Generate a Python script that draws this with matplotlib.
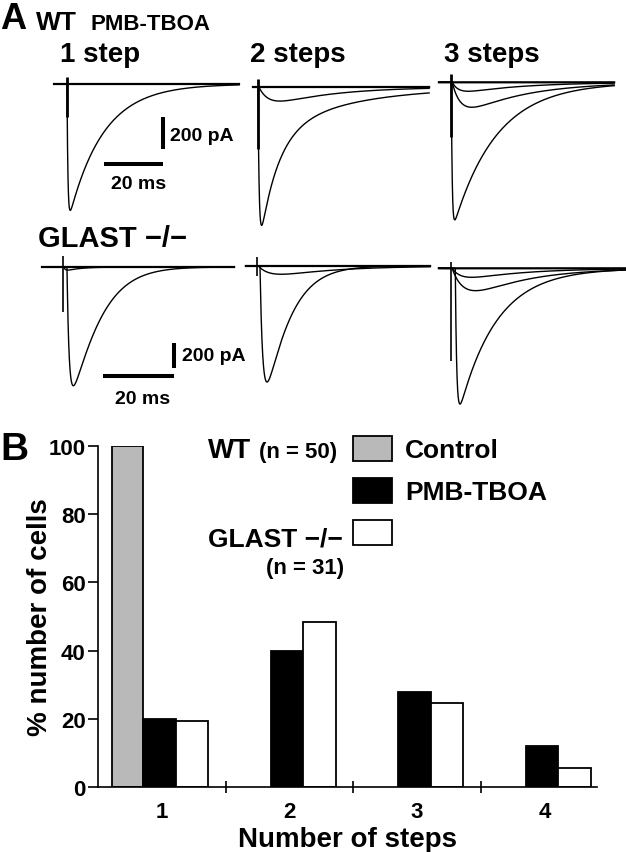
import numpy as np
import matplotlib
matplotlib.use('Agg')
import matplotlib.pyplot as plt

plt.rcParams['font.family'] = ['Liberation Sans', 'DejaVu Sans']
plt.rcParams['font.weight'] = 'bold'

# ---- panel B data (% of cells) ----
steps = [1, 2, 3, 4]
control_pct = [100, 0, 0, 0]
pmb_pct = [20, 40, 28, 12]
glast_pct = [19.5, 48.5, 24.5, 5.5]

# ---- panel A: trace kinetics (ms, pA) ----
col_titles = ['1 step', '2 steps', '3 steps']
# one entry per trace; panel = row * 3 + column
trace_panel = [0, 0, 1, 1, 1, 2, 2, 2, 2, 3, 3, 3, 4, 4, 4, 5, 5, 5, 5]
trace_amp = [0, 790, 0, 88, 865, 0, 56, 156, 860, 0, 25, 950, 0, 66, 928, 0, 72, 179, 1086]
trace_onset = [0, 0, 0, 0.3, 0, 0, 0.3, 0.3, 0, 0, 0.3, 1.2, 0, 0.3, 0.75, 0, 0.3, 0.3, 1.2]
trace_rise = [1, 0.3, 1, 4, 0.4, 1, 2.5, 3.5, 0.3, 1, 0.5, 0.6, 1, 4, 0.8, 1, 3, 4.5, 0.4]
trace_tau = [1, 11.5, 1, 20, 6, 1, 20, 20, 14.5, 1, 4, 9.3, 1, 16, 7.9, 1, 16, 15, 10.4]
trace_q = [1, 1, 1, 1, 1, 1, 1, 1, 1, 1, 1, 1.24, 1, 1, 1.18, 1, 1, 1, 1]
trace_slow_frac = [0, 0, 0, 0, 0.3, 0, 0, 0, 0, 0, 0, 0, 0, 0, 0, 0, 0, 0, 0]
trace_tau_slow = [1, 1, 1, 1, 27, 1, 1, 1, 1, 1, 1, 1, 1, 1, 1, 1, 1, 1, 1]
# stimulus artefact (pA above / below baseline) per panel
artefact_up = [42, 50, 52, 90, 72, 50]
artefact_down = [208, 388, 344, 362, 78, 742]
# recorded window per panel (ms relative to stimulus)
win_start = [-4.4, -1.7, -4.2, -5.8, -3.2, -3.4]
win_end = [58.3, 58.0, 55.2, 48.0, 48.4, 49.0]

W, H = 626, 853
fig = plt.figure(figsize=(W / 100, H / 100), dpi=100)


def ftext(x, y, s, **kw):
    kw.setdefault('va', 'baseline')
    return fig.text(x / W, 1 - y / H, s, **kw)


def current(t, i):
    s = np.clip(t - trace_onset[i], 0, None)
    if trace_amp[i] == 0:
        return np.zeros_like(t)
    fast = np.exp(-(s / trace_tau[i]) ** trace_q[i])
    slow = np.exp(-s / trace_tau_slow[i])
    f = trace_slow_frac[i]
    shape = (1 - np.exp(-s / trace_rise[i])) * ((1 - f) * fast + f * slow)
    return -trace_amp[i] * shape / shape.max()


# layout of the recording panels (pixels)
stim_x = [67, 258, 451.3, 62.7, 257.3, 451]
base_y = [85, 88, 83.3, 268, 267, 269.3]
px_ms = [2.95, 2.95, 2.95, 3.57, 3.57, 3.57]
px_pa = [0.16, 0.16, 0.16, 0.125, 0.125, 0.125]

trace_axes = []
for p in range(6):
    left = stim_x[p] + win_start[p] * px_ms[p]
    right = stim_x[p] + win_end[p] * px_ms[p]
    top = base_y[p] - 25
    bottom = base_y[p] + 175
    ax = fig.add_axes([left / W, 1 - bottom / H, (right - left) / W, (bottom - top) / H])
    ax.set_xlim(win_start[p], win_end[p])
    ax.set_ylim(-(bottom - base_y[p]) / px_pa[p], (base_y[p] - top) / px_pa[p])
    ax.axis('off')
    t = np.linspace(win_start[p], win_end[p], 4000)
    for i in range(len(trace_panel)):
        if trace_panel[i] != p:
            continue
        lw = 1.6 if trace_amp[i] == 0 else 1.0
        ax.plot(t, current(t, i), color='black', lw=lw, clip_on=False)
    ax.plot([0, 0], [artefact_up[p], -artefact_down[p]], color='black',
            lw=2.0 if p < 3 else 1.2, solid_capstyle='butt', clip_on=False)
    trace_axes.append(ax)

# scale bars: 200 pA, 20 ms
ax = trace_axes[0]
ax.plot([32.6, 32.6], [-208, -408], color='black', lw=2.9, solid_capstyle='butt', clip_on=False)
ax.plot([12.6, 32.6], [-500, -500], color='black', lw=2.9, solid_capstyle='butt', clip_on=False)
ax.text(34.9, -320, '200 pA', fontsize=14, fontweight='bold', ha='left', va='center')
ax.text(24.1, -619, '20 ms', fontsize=14, fontweight='bold', ha='center', va='center')
ax = trace_axes[3]
ax.plot([31.2, 31.2], [-610, -810], color='black', lw=2.9, solid_capstyle='butt', clip_on=False)
ax.plot([11.2, 31.2], [-874, -874], color='black', lw=2.9, solid_capstyle='butt', clip_on=False)
ax.text(33.4, -712, '200 pA', fontsize=14, fontweight='bold', ha='left', va='center')
ax.text(22.5, -1056, '20 ms', fontsize=14, fontweight='bold', ha='center', va='center')

# panel A labels
ftext(0, 29, 'A', fontsize=26, fontweight='bold')
ftext(36, 30, 'WT', fontsize=19, fontweight='bold')
ftext(90, 30, 'PMB-TBOA', fontsize=16, fontweight='bold')
for x, s in zip([60, 250, 444], col_titles):
    ftext(x, 62, s, fontsize=20, fontweight='bold')
ftext(38, 247, 'GLAST \u2212/\u2212', fontsize=21, fontweight='bold')

# ---- panel B ----
ftext(0, 460, 'B', fontsize=28, fontweight='bold')
axb = fig.add_axes([98 / W, 1 - 788 / H, (597 - 98) / W, (788 - 447) / H])
x = np.array(steps, dtype=float)
w = 0.255
ctrl_x = [xi for xi, v in zip(x, control_pct) if v > 0]
ctrl_v = [v for v in control_pct if v > 0]
b_ctrl = axb.bar(np.array(ctrl_x) - 0.27, ctrl_v, width=w - 0.01, color='#b9b9b9',
                 edgecolor='black', linewidth=1.3)
b_pmb = axb.bar(x - 0.02, pmb_pct, width=w, color='black', edgecolor='black', linewidth=1.3)
b_gl = axb.bar(x + 0.235, glast_pct, width=w, color='white', edgecolor='black', linewidth=1.3)

axb.set_xlim(0.5, 4.41)
axb.set_ylim(0, 100)
for side in ['top', 'right']:
    axb.spines[side].set_visible(False)
for side in ['left', 'bottom']:
    axb.spines[side].set_linewidth(1.2)
axb.set_yticks([0, 20, 40, 60, 80, 100])
axb.tick_params(axis='y', direction='out', length=7, width=1.2, labelsize=16, pad=2)
axb.set_xticks(steps)
axb.set_xticks([1.5, 2.5, 3.5], minor=True)
axb.tick_params(axis='x', which='major', length=0, labelsize=16, pad=10)
axb.tick_params(axis='x', which='minor', direction='inout', length=8, width=1.2)
for lab in axb.get_xticklabels() + axb.get_yticklabels():
    lab.set_fontweight('bold')
axb.set_ylabel('% number of cells', fontsize=20, fontweight='bold')
axb.yaxis.set_label_coords(-0.09, 0.5)
axb.set_xlabel('Number of steps', fontsize=20, fontweight='bold', labelpad=3)

leg = axb.legend([b_ctrl, b_pmb, b_gl], ['Control', 'PMB-TBOA', ''],
                 loc='upper left', bbox_to_anchor=(353 / W, 1 - 437 / H),
                 bbox_transform=fig.transFigure, frameon=False, fontsize=19,
                 handlelength=1.48, handleheight=1.06, handletextpad=0.5,
                 labelspacing=0.6, borderpad=0, borderaxespad=0)
for txt in leg.get_texts():
    txt.set_fontweight('bold')

ftext(208, 458, 'WT', fontsize=20, fontweight='bold')
ftext(259, 458, '(n = 50)', fontsize=16, fontweight='bold')
ftext(208, 547, 'GLAST \u2212/\u2212', fontsize=19, fontweight='bold')
ftext(305, 574, '(n = 31)', fontsize=16, fontweight='bold', ha='center')

fig.savefig('out.png', dpi=100)
